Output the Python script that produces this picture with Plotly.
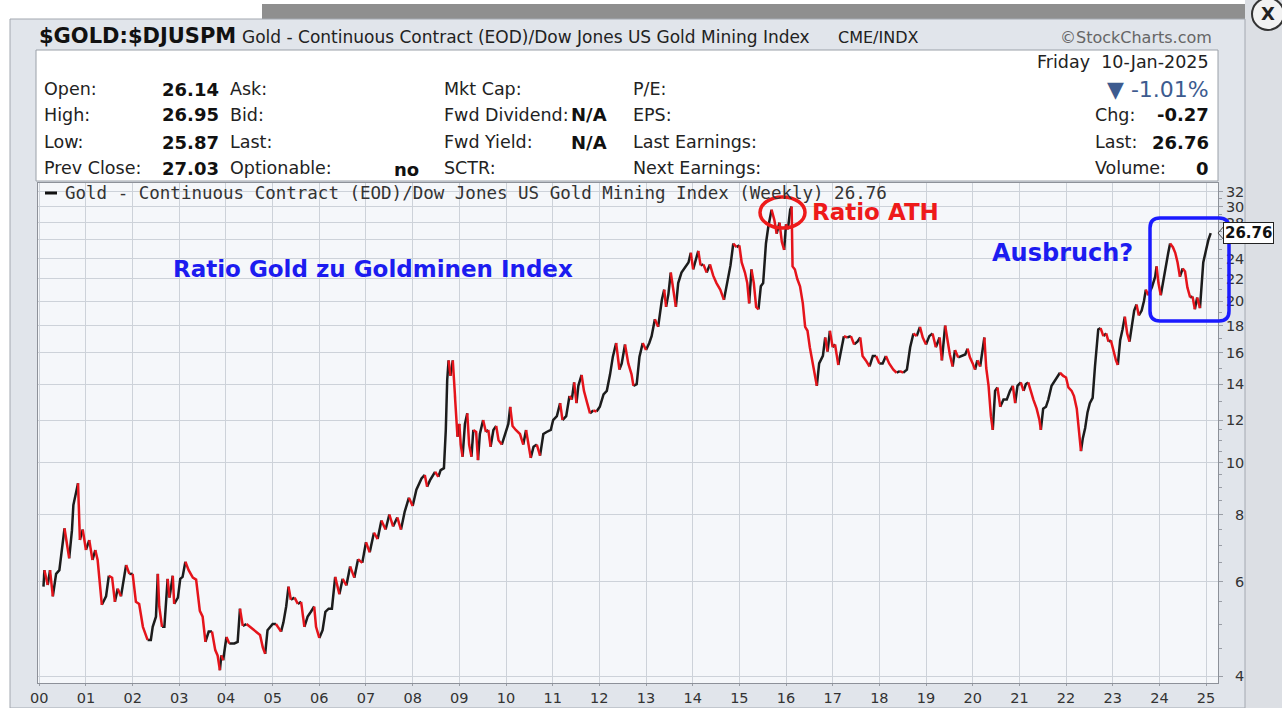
import math
import plotly.graph_objects as go

# ---------------- data ----------------
YEARS = [
    2000.09, 2000.11, 2000.18, 2000.23, 2000.29, 2000.36, 2000.43, 2000.54, 2000.64, 2000.70,
    2000.73, 2000.79, 2000.83, 2000.87, 2000.93, 2001.00, 2001.07, 2001.14, 2001.20, 2001.25,
    2001.34, 2001.43, 2001.49, 2001.56, 2001.62, 2001.68, 2001.75, 2001.80, 2001.86, 2001.93,
    2002.00, 2002.07, 2002.14, 2002.22, 2002.32, 2002.39, 2002.43, 2002.50, 2002.54, 2002.57,
    2002.63, 2002.68, 2002.75, 2002.79, 2002.86, 2002.89, 2002.97, 2003.02, 2003.07, 2003.13,
    2003.20, 2003.29, 2003.36, 2003.44, 2003.50, 2003.56, 2003.63, 2003.70, 2003.77, 2003.82,
    2003.87, 2003.90, 2003.94, 2004.01, 2004.07, 2004.18, 2004.25, 2004.30, 2004.36, 2004.44,
    2004.51, 2004.61, 2004.68, 2004.73, 2004.79, 2004.84, 2004.89, 2005.00, 2005.07, 2005.18,
    2005.23, 2005.29, 2005.34, 2005.39, 2005.47, 2005.54, 2005.61, 2005.68, 2005.75, 2005.82,
    2005.89, 2005.93, 2006.00, 2006.07, 2006.13, 2006.20, 2006.27, 2006.34, 2006.43, 2006.50,
    2006.58, 2006.66, 2006.75, 2006.83, 2006.92, 2007.00, 2007.08, 2007.17, 2007.25, 2007.33,
    2007.42, 2007.50, 2007.58, 2007.67, 2007.75, 2007.83, 2007.92, 2008.00, 2008.08, 2008.19,
    2008.26, 2008.31, 2008.37, 2008.48, 2008.55, 2008.60, 2008.67, 2008.71, 2008.74, 2008.77,
    2008.81, 2008.86, 2008.89, 2008.93, 2008.96, 2009.00, 2009.03, 2009.07, 2009.12, 2009.17,
    2009.21, 2009.26, 2009.30, 2009.36, 2009.40, 2009.44, 2009.51, 2009.57, 2009.62, 2009.67,
    2009.73, 2009.79, 2009.84, 2009.91, 2009.98, 2010.05, 2010.09, 2010.14, 2010.21, 2010.30,
    2010.37, 2010.43, 2010.48, 2010.53, 2010.59, 2010.66, 2010.73, 2010.80, 2010.87, 2010.96,
    2011.01, 2011.09, 2011.16, 2011.21, 2011.29, 2011.36, 2011.41, 2011.46, 2011.51, 2011.55,
    2011.62, 2011.67, 2011.74, 2011.80, 2011.87, 2011.94, 2012.01, 2012.09, 2012.16, 2012.23,
    2012.29, 2012.36, 2012.43, 2012.48, 2012.55, 2012.62, 2012.69, 2012.73, 2012.80, 2012.86,
    2012.93, 2013.00, 2013.07, 2013.12, 2013.19, 2013.26, 2013.34, 2013.39, 2013.43, 2013.48,
    2013.53, 2013.59, 2013.64, 2013.69, 2013.76, 2013.84, 2013.91, 2013.96, 2014.01, 2014.07,
    2014.12, 2014.17, 2014.23, 2014.30, 2014.37, 2014.44, 2014.51, 2014.59, 2014.67, 2014.74,
    2014.81, 2014.87, 2014.94, 2015.00, 2015.05, 2015.12, 2015.17, 2015.21, 2015.26, 2015.31,
    2015.36, 2015.41, 2015.46, 2015.51, 2015.57, 2015.62, 2015.69, 2015.75, 2015.80, 2015.86,
    2015.91, 2015.96, 2016.00, 2016.04, 2016.09, 2016.12, 2016.14, 2016.19, 2016.24, 2016.30,
    2016.36, 2016.41, 2016.46, 2016.51, 2016.59, 2016.66, 2016.71, 2016.79, 2016.84, 2016.89,
    2016.94, 2017.00, 2017.05, 2017.12, 2017.19, 2017.24, 2017.31, 2017.39, 2017.46, 2017.53,
    2017.59, 2017.64, 2017.71, 2017.79, 2017.86, 2017.93, 2018.00, 2018.07, 2018.14, 2018.21,
    2018.30, 2018.37, 2018.44, 2018.51, 2018.59, 2018.66, 2018.73, 2018.80, 2018.87, 2018.93,
    2019.00, 2019.07, 2019.14, 2019.21, 2019.29, 2019.34, 2019.41, 2019.46, 2019.51, 2019.57,
    2019.62, 2019.69, 2019.76, 2019.84, 2019.89, 2019.94, 2020.00, 2020.05, 2020.10, 2020.16,
    2020.21, 2020.25, 2020.29, 2020.34, 2020.39, 2020.43, 2020.48, 2020.53, 2020.59, 2020.66,
    2020.73, 2020.80, 2020.86, 2020.91, 2020.96, 2021.03, 2021.09, 2021.14, 2021.19, 2021.24,
    2021.30, 2021.37, 2021.43, 2021.46, 2021.51, 2021.57, 2021.62, 2021.69, 2021.76, 2021.81,
    2021.87, 2021.94, 2022.00, 2022.05, 2022.12, 2022.17, 2022.23, 2022.29, 2022.32, 2022.36,
    2022.41, 2022.46, 2022.51, 2022.57, 2022.62, 2022.66, 2022.69, 2022.74, 2022.80, 2022.86,
    2022.91, 2022.96, 2023.01, 2023.07, 2023.11, 2023.16, 2023.21, 2023.26, 2023.31, 2023.36,
    2023.41, 2023.46, 2023.51, 2023.56, 2023.62, 2023.67, 2023.71, 2023.76, 2023.84, 2023.91,
    2023.94, 2023.98, 2024.03, 2024.09, 2024.14, 2024.19, 2024.23, 2024.29, 2024.34, 2024.39,
    2024.44, 2024.50, 2024.55, 2024.60, 2024.66, 2024.71, 2024.76, 2024.81, 2024.87, 2024.91,
    2024.94, 2025.00, 2025.05, 2025.10,
]
RATIO = [
    5.87, 6.30, 5.91, 6.30, 5.63, 6.20, 6.30, 7.54, 6.63, 7.48,
    8.33, 8.76, 9.15, 7.17, 7.50, 6.87, 7.17, 6.58, 6.87, 6.58,
    5.43, 5.63, 6.15, 6.10, 5.50, 5.82, 5.63, 5.95, 6.44, 6.20,
    6.20, 5.50, 5.45, 4.94, 4.67, 4.67, 4.94, 5.16, 6.20, 5.39,
    4.94, 4.94, 6.07, 5.60, 6.15, 5.45, 5.60, 6.07, 6.12, 6.53,
    6.30, 6.10, 6.05, 5.29, 5.16, 4.63, 4.84, 4.84, 4.47, 4.37,
    4.10, 4.37, 4.28, 4.73, 4.60, 4.60, 4.63, 5.34, 4.96, 5.00,
    4.94, 4.87, 4.80, 4.77, 4.52, 4.40, 4.87, 5.00, 5.00, 4.84,
    5.03, 5.39, 5.87, 5.55, 5.60, 5.45, 5.50, 4.94, 5.16, 5.27,
    5.39, 4.94, 4.71, 4.87, 5.27, 5.34, 5.34, 6.12, 5.68, 6.07,
    5.90, 6.40, 6.10, 6.60, 6.50, 7.10, 6.80, 7.40, 7.20, 7.80,
    7.50, 8.00, 7.60, 7.90, 7.50, 8.10, 8.60, 8.30, 8.90, 9.34,
    9.48, 9.01, 9.26, 9.61, 9.40, 9.68, 9.76, 11.50, 14.25, 15.50,
    14.50, 15.50, 14.05, 12.90, 11.17, 11.80, 10.80, 10.25, 11.80, 12.35,
    10.80, 10.25, 11.50, 11.40, 10.10, 11.30, 12.00, 11.40, 11.50, 10.70,
    11.50, 11.70, 11.00, 10.80, 11.30, 11.80, 12.70, 11.70, 11.50, 11.30,
    10.80, 11.50, 10.80, 10.20, 10.70, 10.80, 10.30, 11.30, 11.40, 11.50,
    12.00, 12.20, 12.90, 12.00, 12.20, 13.30, 13.10, 14.10, 12.90, 13.90,
    14.56, 13.60, 12.90, 12.35, 12.50, 12.45, 12.70, 13.40, 13.60, 14.60,
    15.75, 16.70, 14.90, 15.30, 16.60, 15.30, 14.60, 13.90, 14.00, 15.75,
    16.70, 16.20, 16.70, 17.20, 18.50, 17.90, 20.10, 21.00, 19.50, 20.60,
    22.60, 21.00, 19.50, 21.60, 22.60, 23.20, 23.60, 24.60, 22.90, 24.00,
    24.80, 23.30, 23.40, 22.60, 23.40, 22.30, 21.60, 21.00, 20.10, 21.60,
    23.30, 25.60, 25.20, 25.40, 23.60, 22.60, 21.60, 19.80, 22.90, 21.60,
    19.50, 19.30, 21.30, 21.60, 25.60, 27.50, 29.60, 28.30, 26.70, 28.00,
    25.80, 24.90, 27.80, 27.20, 29.60, 30.00, 23.20, 22.90, 22.00, 21.30,
    19.80, 17.90, 17.60, 16.40, 15.10, 13.90, 15.30, 15.80, 17.10, 16.10,
    17.60, 16.40, 16.60, 15.20, 16.40, 17.20, 17.10, 17.20, 16.60, 16.80,
    17.10, 15.80, 15.50, 15.10, 15.80, 15.80, 15.30, 15.30, 15.80, 15.30,
    14.90, 14.70, 14.80, 14.70, 14.90, 16.40, 17.40, 17.20, 17.90, 17.10,
    16.60, 17.20, 17.40, 16.40, 17.10, 15.50, 18.00, 16.90, 15.90, 15.10,
    16.20, 15.70, 15.80, 15.90, 16.30, 15.70, 15.30, 14.90, 15.50, 15.10,
    16.40, 17.10, 15.00, 13.90, 12.20, 11.50, 13.60, 13.80, 12.70, 13.10,
    13.10, 13.60, 13.90, 12.90, 13.90, 14.10, 13.60, 14.00, 14.10, 13.60,
    13.10, 12.60, 12.00, 11.50, 12.60, 12.70, 13.10, 13.90, 14.20, 14.50,
    14.70, 14.50, 14.40, 13.80, 13.60, 13.30, 12.60, 11.30, 10.50, 11.10,
    11.60, 12.40, 12.90, 13.20, 15.10, 16.90, 17.70, 17.80, 17.20, 17.40,
    16.80, 16.90, 16.20, 15.50, 15.20, 16.90, 17.70, 18.70, 17.40, 16.80,
    17.80, 19.20, 19.70, 18.80, 19.20, 20.00, 21.00, 20.50, 21.20, 22.20,
    23.20, 21.60, 20.50, 22.00, 23.50, 24.60, 25.60, 25.20, 24.60, 23.60,
    22.20, 23.00, 22.70, 21.20, 20.30, 20.40, 19.30, 20.30, 19.40, 22.20,
    23.60, 24.90, 26.00, 26.76,
]
LAST_VALUE = 26.76

TICK_YEARS = list(range(2000, 2026))
TICK_YEAR_LABELS = [f"{y % 100:02d}" for y in TICK_YEARS]
Y_TICKS = [4, 6, 8, 10, 12, 14, 16, 18, 20, 22, 24, 26, 28, 30, 32]
# the "26" label sits behind the last-value box in the reference, so it shows no text
Y_TICK_LABELS = ["\u20074", "\u20076", "\u20078", "10", "12", "14", "16", "18",
                 "20", "22", "24", "", "28", "30", "32"]
MINOR_TICKS = [v / 2 for v in range(8, 24)] + list(range(12, 33))

TITLE_SYMBOL = "$GOLD:$DJUSPM"
TITLE_NAME = "Gold - Continuous Contract (EOD)/Dow Jones US Gold Mining Index"
TITLE_EXCH = "CME/INDX"
LEGEND_TEXT = "Gold - Continuous Contract (EOD)/Dow Jones US Gold Mining Index (Weekly) 26.76"

INFO_COL1 = [("Open:", "26.14"), ("High:", "26.95"), ("Low:", "25.87"), ("Prev Close:", "27.03")]
INFO_COL2 = [("Ask:", ""), ("Bid:", ""), ("Last:", ""), ("Optionable:", "no")]
INFO_COL3 = [("Mkt Cap:", ""), ("Fwd Dividend:", "N/A"), ("Fwd Yield:", "N/A"), ("SCTR:", "")]
INFO_COL4 = ["P/E:", "EPS:", "Last Earnings:", "Next Earnings:"]
INFO_RIGHT = [("Chg:", "-0.27"), ("Last:", "26.76"), ("Volume:", "0")]
DATE_TEXT = "Friday  10-Jan-2025"
PCT_TEXT = "\u25BC -1.01%"

# ---------------- geometry helpers (pixel -> paper) ----------------
W, H = 1282, 708
def px(x):
    return x / W
def py(y):
    return 1 - y / H

PLOT_L, PLOT_R, PLOT_T, PLOT_B = 38, 1218, 183, 683

# ---------------- traces: black when rising, red when falling ----------------
RED = "#e5141b"
BLACK = "#1c1c1c"

fig = go.Figure()
runs = []
cur_dir = None
cur = None
for i in range(len(YEARS) - 1):
    d = RATIO[i + 1] >= RATIO[i]
    if d != cur_dir:
        if cur is not None:
            runs.append((cur_dir, cur))
        cur = [i]
        cur_dir = d
    cur.append(i + 1)
runs.append((cur_dir, cur))

for color_up in (True, False):
    xs, ys = [], []
    for d, idx in runs:
        if d == color_up:
            xs += [YEARS[k] for k in idx] + [None]
            ys += [RATIO[k] for k in idx] + [None]
    fig.add_trace(go.Scatter(
        x=xs, y=ys, mode="lines", connectgaps=False, hoverinfo="skip",
        line=dict(color=BLACK if color_up else RED, width=2.5),
        showlegend=False,
    ))

# ---------------- shapes ----------------
shapes = []
def rect(x0, y0, x1, y1, fill, line=None, lw=1, layer="below"):
    shapes.append(dict(type="rect", xref="paper", yref="paper",
                       x0=px(x0), x1=px(x1), y0=py(y1), y1=py(y0),
                       fillcolor=fill, line=dict(color=line or fill, width=lw if line else 0),
                       layer=layer))

rect(1245, 0, 1282, 708, "#dcdfe4")
rect(262, 4, 1245, 19, "#8f8f8f")
rect(10, 19, 1245, 708, "#e1e5eb", "#a3a8b0", 1)
rect(36, 50, 1218, 181, "#ffffff", "#9aa0a8", 1)
rect(PLOT_L, PLOT_T, PLOT_R, PLOT_B, "#f5f7fa")

# legend dash
shapes.append(dict(type="line", xref="paper", yref="paper", x0=px(45), x1=px(57),
                   y0=py(193), y1=py(193), line=dict(color="#111", width=3), layer="above"))
# Ratio ATH circle
shapes.append(dict(type="circle", xref="paper", yref="paper", x0=px(760), x1=px(805),
                   y0=py(228), y1=py(197), line=dict(color="#ee1a1a", width=3.5), layer="above"))
# Ausbruch box (rounded)
bx0, bx1, by0, by1, r = 1150, 1229, 218, 321, 10
path = (f"M {px(bx0 + r)} {py(by0)} L {px(bx1 - r)} {py(by0)} "
        f"Q {px(bx1)} {py(by0)} {px(bx1)} {py(by0 + r)} L {px(bx1)} {py(by1 - r)} "
        f"Q {px(bx1)} {py(by1)} {px(bx1 - r)} {py(by1)} L {px(bx0 + r)} {py(by1)} "
        f"Q {px(bx0)} {py(by1)} {px(bx0)} {py(by1 - r)} L {px(bx0)} {py(by0 + r)} "
        f"Q {px(bx0)} {py(by0)} {px(bx0 + r)} {py(by0)} Z")
shapes.append(dict(type="path", xref="paper", yref="paper", path=path,
                   line=dict(color="#1a1aff", width=3.5), layer="above"))
# last value pointer
shapes.append(dict(type="path", xref="paper", yref="paper",
                   path=f"M {px(1225)} {py(225)} L {px(1218)} {py(233)} L {px(1225)} {py(241)}",
                   line=dict(color="#444", width=1), layer="above"))
# close button
shapes.append(dict(type="circle", xref="paper", yref="paper", x0=px(1252), x1=px(1284),
                   y0=py(30), y1=py(-2), fillcolor="#f2f2f2",
                   line=dict(color="#333", width=2), layer="above"))

# ---------------- annotations ----------------
ann = []
SANS = "DejaVu Sans, Verdana, sans-serif"
def text(x, y, s, size, color="#222", anchor="left", bold=False, family=SANS, **kw):
    ann.append(dict(xref="paper", yref="paper", x=px(x), y=py(y), text=(f"<b>{s}</b>" if bold else s),
                    showarrow=False, xanchor=anchor, yanchor="middle",
                    font=dict(family=family, size=size, color=color), **kw))

text(37, 36, TITLE_SYMBOL, 21, "#111", bold=True)
text(240, 37, TITLE_NAME, 17, "#222")
text(836, 37, TITLE_EXCH, 16, "#222")
text(1214, 37, "\u00A9StockCharts.com", 16, "#666", anchor="right")

rows_y = [89, 115, 142, 168]
for (lab, val), yy in zip(INFO_COL1, rows_y):
    text(42, yy, lab, 17.5)
    text(221, yy, val, 18, "#111", anchor="right", bold=True)
for (lab, val), yy in zip(INFO_COL2, rows_y):
    text(228, yy, lab, 17.5)
    if val:
        text(421, yy + 1, val, 18, "#111", anchor="right", bold=True)
for (lab, val), yy in zip(INFO_COL3, rows_y):
    text(442, yy, lab, 17.5)
    if val:
        text(609, yy, val, 18, "#111", anchor="right", bold=True)
for lab, yy in zip(INFO_COL4, rows_y):
    text(631, yy, lab, 17.5)
text(1211, 62, DATE_TEXT, 17.5, anchor="right")
text(1211, 89, PCT_TEXT, 22, "#3d5b8f", anchor="right")
for (lab, val), yy in zip(INFO_RIGHT, rows_y[1:]):
    text(1093, yy, lab, 17.5)
    text(1211, yy, val, 18, "#111", anchor="right", bold=True)

text(63, 193, LEGEND_TEXT, 17.5, "#333", family="DejaVu Sans Mono, monospace")

text(171, 269, "Ratio Gold zu Goldminen Index", 23, "#1c1cf0", bold=True)
text(810, 212, "Ratio ATH", 23, "#ee1a1a", bold=True)
text(990, 253, "Ausbruch?", 24, "#1c1cf0", bold=True)

text(1268, 14, "X", 18, "#222", anchor="center", bold=True)

ann.append(dict(xref="paper", yref="y", x=px(1223), y=math.log10(LAST_VALUE),
                text=f"<b>{LAST_VALUE:.2f}</b>", showarrow=False, xanchor="left", yanchor="middle",
                bgcolor="#ffffff", bordercolor="#222", borderwidth=1, borderpad=1,
                font=dict(family=SANS, size=15, color="#111")))

# ---------------- layout ----------------
y_lo = 4 * math.exp(-(PLOT_B - 676) / 233)
y_hi = 4 * math.exp((676 - PLOT_T) / 233)
x_lo = 2000 + (PLOT_L - 39.3) / 46.67
x_hi = 2000 + (PLOT_R - 39.3) / 46.67

fig.update_layout(
    width=W, height=H, autosize=False,
    margin=dict(l=0, r=0, t=0, b=0, pad=0, autoexpand=False),
    paper_bgcolor="#ffffff", plot_bgcolor="rgba(0,0,0,0)",
    showlegend=False,
    shapes=shapes, annotations=ann,
    xaxis=dict(
        domain=[px(PLOT_L), px(PLOT_R)], range=[x_lo, x_hi], automargin=False,
        tickmode="array", tickvals=TICK_YEARS, ticktext=TICK_YEAR_LABELS,
        showgrid=True, gridcolor="#cdd2d9", gridwidth=1, zeroline=False,
        showline=True, mirror=True, linecolor="#8d9199", linewidth=1,
        ticks="outside", ticklen=2, tickcolor="#9a9ea6",
        tickfont=dict(family=SANS, size=14.5, color="#333"), fixedrange=True,
    ),
    yaxis=dict(
        type="log", side="right", automargin=False,
        domain=[py(PLOT_B), py(PLOT_T)], range=[math.log10(y_lo), math.log10(y_hi)],
        tickmode="array", tickvals=Y_TICKS, ticktext=Y_TICK_LABELS,
        showgrid=True, gridcolor="#cdd2d9", gridwidth=1, zeroline=False,
        showline=True, mirror=True, linecolor="#8d9199", linewidth=1,
        ticks="outside", ticklen=4, tickcolor="#9a9ea6",
        minor=dict(tickmode="array", tickvals=MINOR_TICKS, ticks="outside", ticklen=3,
                   tickcolor="#9a9ea6", showgrid=False),
        tickfont=dict(family=SANS, size=14.5, color="#333"), fixedrange=True,
    ),
)

fig.write_html(
    "out.html",
    config={"displayModeBar": False},
    post_script="document.body.style.margin='0px';document.body.style.overflow='hidden';",
)
